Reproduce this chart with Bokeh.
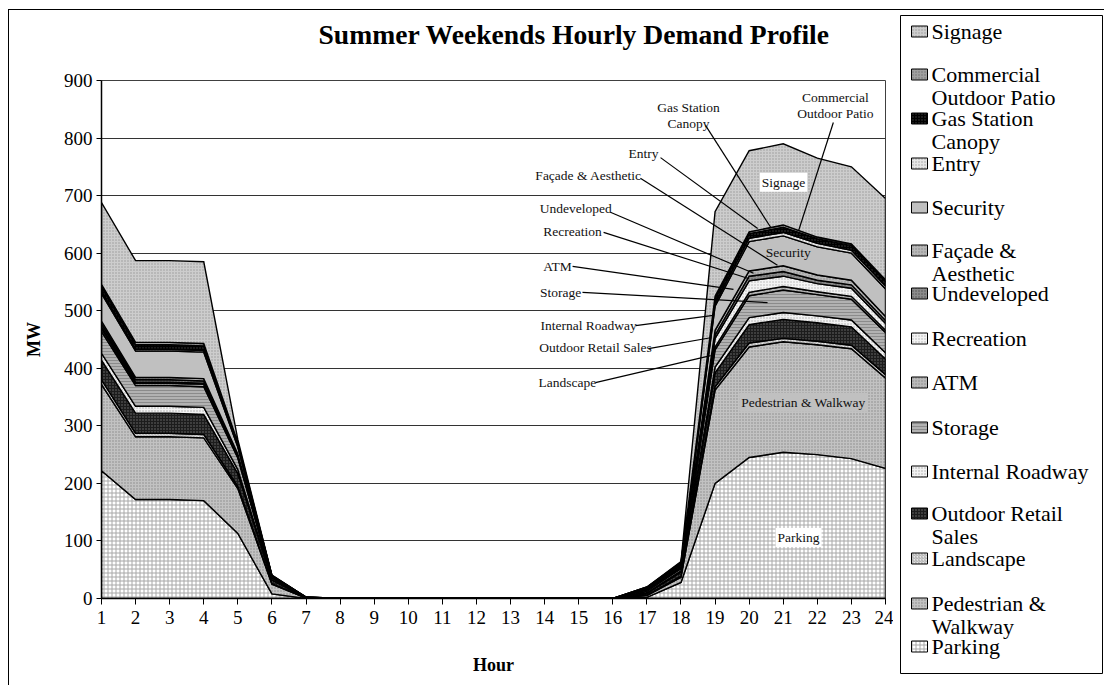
import numpy as np
from bokeh.plotting import figure
from bokeh.layouts import row
from bokeh.models import Label, FixedTicker, Range1d
from bokeh.core.properties import value
from bokeh.embed import file_html
from bokeh.resources import INLINE

# ---------------- data (MW by hour, stacked bottom -> top) ----------------
hours = list(range(1, 25))
parking      = [222, 172, 172, 170, 113, 8, 0.3, 0, 0, 0, 0, 0, 0, 0, 0, 0, 2, 28, 200, 245, 254, 250, 243, 226]
pedestrian   = [150, 109, 109, 109, 78, 17, 0.5, 0, 0, 0, 0, 0, 0, 0, 0, 0, 3, 9, 162, 192, 192, 191, 191, 157]
landscape    = [8, 6, 6, 6, 4, 1, 0.1, 0, 0, 0, 0, 0, 0, 0, 0, 0, 1, 2, 6, 7, 6, 6, 6, 6]
outdoor_ret  = [34, 35, 35, 35, 22, 6, 0.3, 0, 0, 0, 0, 0, 0, 0, 0, 0, 3, 7, 24, 32, 33, 32, 32, 27]
int_roadway  = [12, 12, 12, 12, 7, 1, 0.1, 0, 0, 0, 0, 0, 0, 0, 0, 0, 1, 2, 10, 12, 12, 12, 12, 11]
storage      = [38, 36, 36, 36, 20, 3, 0.3, 0, 0, 0, 0, 0, 0, 0, 0, 0, 3, 4, 30, 38, 39, 37, 36, 35]
atm          = [5, 4, 4, 4, 2, 0.5, 0.1, 0, 0, 0, 0, 0, 0, 0, 0, 0, 1, 1, 5, 6, 6, 5, 5, 4]
recreation   = [3, 2, 2, 2, 1, 0.5, 0.1, 0, 0, 0, 0, 0, 0, 0, 0, 0, 1, 2, 15, 20, 18, 14, 14, 12]
undeveloped  = [5, 4, 4, 4, 2, 0.5, 0.1, 0, 0, 0, 0, 0, 0, 0, 0, 0, 1, 1, 6, 8, 8, 6, 6, 5]
facade       = [5, 4, 4, 4, 2, 0.5, 0.1, 0, 0, 0, 0, 0, 0, 0, 0, 0, 0.5, 1, 8, 9, 10, 9, 8, 7]
security     = [48, 46, 46, 46, 12, 1, 0.2, 0, 0, 0, 0, 0, 0, 0, 0, 0, 1.5, 2, 42, 51, 52, 49, 47, 48]
entry        = [4, 3, 3, 3, 2, 0.3, 0.1, 0, 0, 0, 0, 0, 0, 0, 0, 0, 0.5, 1, 5, 6, 6, 6, 5, 5]
gas_canopy   = [8, 8, 8, 8, 4, 0.7, 0.2, 0, 0, 0, 0, 0, 0, 0, 0, 0, 1, 2, 8, 8, 9, 8, 8, 8]
patio        = [4, 4, 4, 4, 2, 0.3, 0.1, 0, 0, 0, 0, 0, 0, 0, 0, 0, 0.5, 1, 4, 3, 4, 3, 3, 3]
signage      = [142, 142, 142, 142, 5, 0.2, 0, 0, 0, 0, 0, 0, 0, 0, 0, 0, 0, 1, 147, 141, 141, 137, 134, 141]

series_names = ["Parking", "Pedestrian &\nWalkway", "Landscape", "Outdoor Retail\nSales",
                "Internal Roadway", "Storage", "ATM", "Recreation", "Undeveloped",
                "Façade &\nAesthetic", "Security", "Entry", "Gas Station\nCanopy",
                "Commercial\nOutdoor Patio", "Signage"]
series_values = [parking, pedestrian, landscape, outdoor_ret, int_roadway, storage, atm,
                 recreation, undeveloped, facade, security, entry, gas_canopy, patio, signage]

y_ticks = list(range(0, 1000, 100))

# ---------------- styles ----------------
styles = [
    dict(fill_color="white", hatch_pattern="cross", hatch_color="#a8a8a8", hatch_scale=4, hatch_weight=1),
    dict(fill_color="#c2c2c2", hatch_pattern="dot", hatch_color="#8a8a8a", hatch_scale=3, hatch_weight=1),
    dict(fill_color="#e8e8e8", hatch_pattern="right_diagonal_line", hatch_color="#999999", hatch_scale=3, hatch_weight=0.8),
    dict(fill_color="#1c1c1c", hatch_pattern="dot", hatch_color="#707070", hatch_scale=3, hatch_weight=1),
    dict(fill_color="#f2f2f2", hatch_pattern="dot", hatch_color="#aaaaaa", hatch_scale=3, hatch_weight=1),
    dict(fill_color="#b2b2b2", hatch_pattern="horizontal_line", hatch_color="#7a7a7a", hatch_scale=3, hatch_weight=0.7),
    dict(fill_color="#bababa", hatch_pattern="dot", hatch_color="#888888", hatch_scale=3, hatch_weight=1),
    dict(fill_color="#f3f3f3", hatch_pattern="dot", hatch_color="#b0b0b0", hatch_scale=3, hatch_weight=1),
    dict(fill_color="#8c8c8c", hatch_pattern="dot", hatch_color="#505050", hatch_scale=3, hatch_weight=1),
    dict(fill_color="#b8b8b8", hatch_pattern="dot", hatch_color="#888888", hatch_scale=3, hatch_weight=1),
    dict(fill_color="#c0c0c0"),
    dict(fill_color="#e6e6e6", hatch_pattern="dot", hatch_color="#a0a0a0", hatch_scale=3, hatch_weight=1),
    dict(fill_color="#000000", hatch_pattern="dot", hatch_color="#404040", hatch_scale=3, hatch_weight=1),
    dict(fill_color="#a0a0a0", hatch_pattern="dot", hatch_color="#707070", hatch_scale=3, hatch_weight=1),
    dict(fill_color="#cdcdcd", hatch_pattern="dot", hatch_color="#999999", hatch_scale=3, hatch_weight=1),
]

FONT = "Liberation Serif"

p = figure(width=884, height=675, output_backend="svg", toolbar_location=None,
           x_range=Range1d(1, 24), y_range=Range1d(0, 900),
           title="Summer Weekends Hourly Demand Profile\n ",
           min_border_left=92, min_border_right=8, min_border_top=70, min_border_bottom=87)
p.frame_align = False
p.background_fill_color = "white"
p.border_fill_color = "white"
p.outline_line_color = "#404040"
p.outline_line_width = 1

p.title.text_font = FONT
p.title.text_font_size = "27.6px"
p.title.text_font_style = "bold"
p.title.text_color = "black"
p.title.align = "left"
p.title.offset = 217
p.title.vertical_align = "bottom"
p.title.standoff = 0

# ---------------- stacked areas ----------------
x = np.array(hours, dtype=float)
lower = np.zeros(len(hours))
for name, vals, st in zip(series_names, series_values, styles):
    upper = lower + np.array(vals, dtype=float)
    xs = list(x) + list(x[::-1])
    ys = list(upper) + list(lower[::-1])
    p.patch(xs, ys, line_color="black", line_width=1.4, line_join="miter", **st)
    lower = upper

# ---------------- axes ----------------
p.xgrid.visible = False
p.ygrid.grid_line_color = "#333333"
p.ygrid.grid_line_width = 1
p.yaxis.ticker = FixedTicker(ticks=y_ticks)
p.xaxis.ticker = FixedTicker(ticks=hours)
for ax in (p.xaxis[0], p.yaxis[0]):
    ax.axis_line_color = "black"
    ax.axis_line_width = 1.5
    ax.major_tick_line_color = "black"
    ax.major_tick_line_width = 1
    ax.minor_tick_line_color = None
    ax.major_tick_in = 0
    ax.major_label_text_font = FONT
    ax.major_label_text_font_size = "19px"
    ax.major_label_text_color = "black"
    ax.axis_label_text_font = FONT
    ax.axis_label_text_font_size = "18px"
    ax.axis_label_text_font_style = "bold"
    ax.axis_label_text_color = "black"
p.xaxis.major_tick_out = 6
p.xaxis.major_label_standoff = 6
p.yaxis.major_tick_out = 5
p.yaxis.major_label_standoff = 4
p.xaxis.axis_label = "Hour"
p.yaxis.axis_label = "MW"
p.xaxis.axis_label_standoff = 28
p.yaxis.axis_label_standoff = 17

# ---------------- annotations (label text, label pos, leader start, leader end) ----------------
annots = [
    ("Gas Station\nCanopy", 18.22, 839, (18.72, 822), (20.63, 645)),
    ("Commercial\nOutdoor Patio", 22.53, 857, (22.47, 827), (21.45, 639)),
    ("Entry", 16.90, 773, (17.40, 766), (20.25, 643)),
    ("Façade & Aesthetic", 15.29, 735, (16.81, 730), (20.83, 579)),
    ("Undeveloped", 14.91, 678, (15.93, 671), (20.13, 565)),
    ("Recreation", 14.82, 638, (15.73, 636), (19.98, 556)),
    ("ATM", 14.38, 577, (14.82, 577), (19.54, 537)),
    ("Storage", 14.47, 532, (15.11, 532), (20.54, 514)),
    ("Internal Roadway", 15.29, 474, (16.67, 474), (18.95, 492)),
    ("Outdoor Retail Sales", 15.49, 436, (17.05, 434), (18.87, 453)),
    ("Landscape", 14.67, 375, (15.49, 375), (18.87, 422)),
]
p.segment(x0=[a[3][0] for a in annots], y0=[a[3][1] for a in annots],
          x1=[a[4][0] for a in annots], y1=[a[4][1] for a in annots],
          line_color="black", line_width=1.2)
for txt, lx, ly, _, _ in annots:
    p.add_layout(Label(x=lx, y=ly, text=txt, text_font=FONT, text_font_size="13.5px",
                       text_align="center", text_baseline="middle", text_color="#111111",
                       text_line_height=1.05))

inside = [
    ("Signage", 21.01, 723, "white"),
    ("Security", 21.15, 601, None),
    ("Pedestrian & Walkway", 21.59, 341, "#c0c0c0"),
    ("Parking", 21.45, 106, "white"),
]
for txt, lx, ly, bg in inside:
    kw = {}
    if bg is not None:
        kw = dict(background_fill_color=bg, padding=2)
    p.add_layout(Label(x=lx, y=ly, text=txt, text_font=FONT, text_font_size="13.5px",
                       text_align="center", text_baseline="middle", text_color="#111111", **kw))

# ---------------- legend (separate panel whose ranges are in pixels) ----------------
LG_W, LG_H = 211, 675
lg = figure(width=LG_W, height=LG_H, output_backend="svg", toolbar_location=None,
            x_range=Range1d(0, LG_W), y_range=Range1d(0, LG_H),
            x_axis_type=None, y_axis_type=None,
            min_border_left=0, min_border_right=0, min_border_top=0, min_border_bottom=0)
lg.frame_align = False
lg.grid.visible = False
lg.outline_line_color = None
lg.background_fill_color = "white"
lg.border_fill_color = "white"
lg.quad(left=[7], right=[209], top=[LG_H - 5], bottom=[12], fill_color="white",
        line_color="black", line_width=1)

# legend rows, top to bottom: first-line offset from panel top (px)
row_tops = [21, 64, 108, 153, 197, 240, 283, 328, 372, 417, 461, 503, 548, 593, 636]
LINE_PITCH = 23
for (name, st), top in zip(reversed(list(zip(series_names, styles))), row_tops):
    yc = LG_H - top
    lg.quad(left=[18], right=[34], top=[yc + 5.5], bottom=[yc - 5.5],
            line_color="black", line_width=1, **st)
    lines = name.split("\n")
    lg.text(x=[38] * len(lines), y=[yc - i * LINE_PITCH for i in range(len(lines))], text=lines,
            text_font=value(FONT), text_font_size="22px", text_color="black",
            text_align="left", text_baseline="middle")

layout = row(p, lg, spacing=0,
             styles={"margin-left": "8px", "margin-top": "9px",
                     "border-top": "1px solid black", "border-left": "1px solid black"})

open("out.html", "w").write(file_html(layout, INLINE))
